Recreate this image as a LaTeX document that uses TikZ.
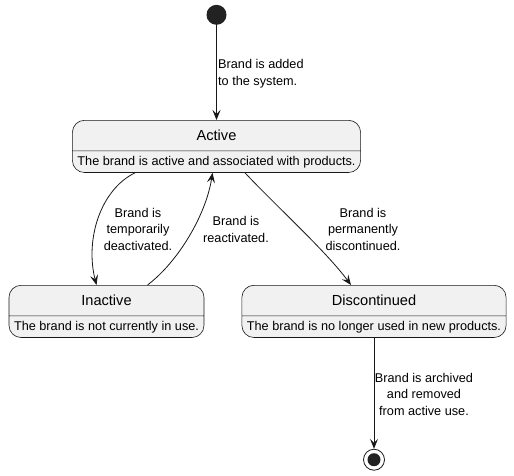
\documentclass[tikz,border=0pt]{standalone}
\usepackage{fontspec}
\setmainfont{Liberation Sans}
\usepackage{tikz}
\usetikzlibrary{arrows.meta,positioning,shapes.multipart}
\definecolor{statefill}{HTML}{F1F1F1}
\definecolor{lineblack}{HTML}{181818}
\definecolor{dotblack}{HTML}{222222}
\newcommand{\sttitle}[1]{\fontsize{14.6}{16}\selectfont\rule[-10pt]{0pt}{30pt}#1}
\newcommand{\stdesc}[1]{\fontsize{12.7}{14}\selectfont\rule[-6.5pt]{0pt}{21pt}#1}
\tikzset{
	state/.style={draw=lineblack,fill=statefill,rounded corners=12pt,rectangle split,rectangle split parts=2,rectangle split part align={center,left},inner xsep=5pt,inner ysep=0pt,line width=0.6pt,anchor=north},
	lbl/.style={font=\fontsize{12.7}{16.5}\selectfont,align=center,inner sep=0pt},
	trans/.style={draw=lineblack,line width=0.8pt,-{Stealth[length=10pt,width=8pt,inset=4pt]}}
}
\begin{document}
\begin{tikzpicture}[x=1pt,y=-1pt]
	\useasboundingbox (0,0) rectangle (514,475);
	\node[state] (2) at (216.5,120)
	{\sttitle{Active}\nodepart{two}\stdesc{The brand is active and associated with products.}};
	\node[state] (3) at (106.5,285)
	{\sttitle{Inactive}\nodepart{two}\stdesc{The brand is not currently in use.}};
	\node[state] (4) at (374,285)
	{\sttitle{Discontinued}\nodepart{two}\stdesc{The brand is no longer used in new products.}};
	\node[circle,fill=dotblack,minimum size=20pt,inner sep=0pt] (1) [above=95pt of 2] {};
	\node[circle,draw=lineblack,fill=white,line width=0.8pt,minimum size=21pt,inner sep=0pt,
	path picture={\fill[dotblack] (path picture bounding box.center) circle (6.5pt);}] (5) [below=111pt of 4] {};
	\node[lbl,align=left,anchor=west] (l1) at (218,73.5)
	{Brand is added\\to the system.};
	\node[lbl] (l2) at (138,229)
	{Brand is\\temporarily\\deactivated.};
	\node[lbl] (l3) at (236,229.5)
	{Brand is\\reactivated.};
	\node[lbl] (l4) at (363,229)
	{Brand is\\permanently\\discontinued.};
	\node[lbl] (l5) at (424,394)
	{Brand is archived\\and removed\\from active use.};
	\draw[trans] (1) -- (2);
	\draw[trans] ([xshift=-81.5pt]2.south) .. controls (100,190) and (85,240) .. ([xshift=-10pt]3.north);
	\draw[trans] ([xshift=41pt]3.north) .. controls (178,262) and (206,215) .. ([xshift=-4pt]2.south);
	\draw[trans] ([xshift=28.5pt]2.south) .. controls (275,205) and (325,250) .. ([xshift=-23pt]4.north);
	\draw[trans] (4) -- (5);
\end{tikzpicture}
\end{document}
